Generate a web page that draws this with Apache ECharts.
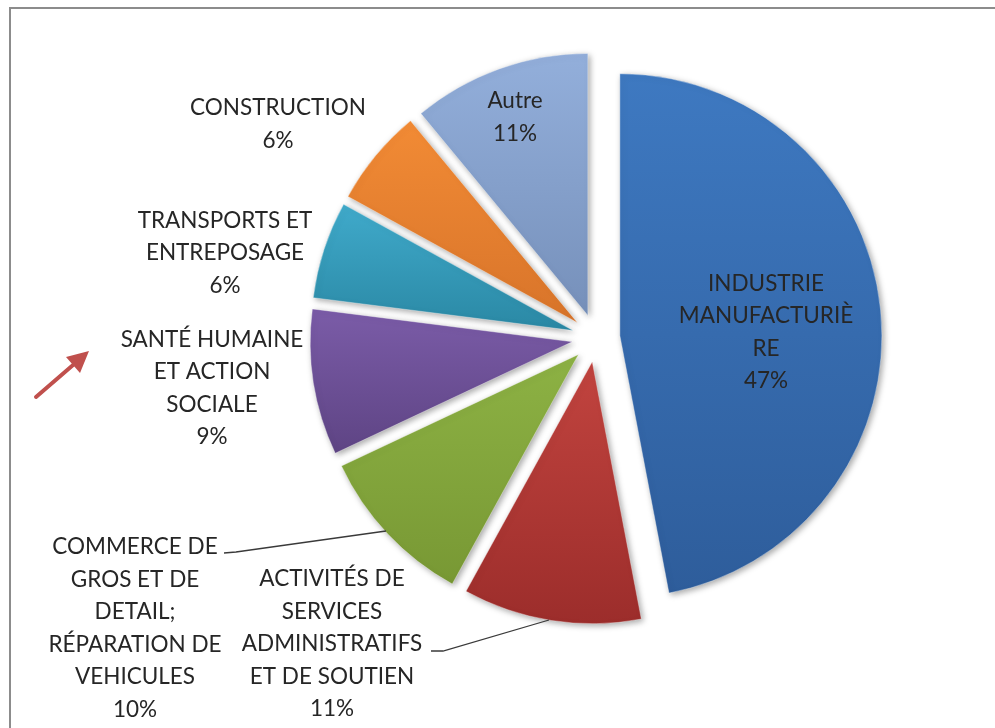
<!DOCTYPE html>
<html>
<head>
<meta charset="utf-8">
<script src="https://cdn.jsdelivr.net/npm/echarts@6/dist/echarts.min.js"></script>
<style>
  html, body { margin: 0; padding: 0; background: #fff; }
  #chart { width: 995px; height: 728px; }
</style>
</head>
<body>
<div id="chart"></div>
<script>
// secteurs d'activité, parts en %
const categories = [
  'INDUSTRIE\nMANUFACTURIÈ\nRE',
  'ACTIVITÉS DE\nSERVICES\nADMINISTRATIFS\nET DE SOUTIEN',
  'COMMERCE DE\nGROS ET DE\nDETAIL;\nRÉPARATION DE\nVEHICULES',
  'SANTÉ HUMAINE\nET ACTION\nSOCIALE',
  'TRANSPORTS ET\nENTREPOSAGE',
  'CONSTRUCTION',
  'Autre'
]
const shares = [47, 11, 10, 9, 6, 6, 11]

// dégradés haut -> bas (effet relief Excel)
const colorsTop = ['#3e79c1', '#c2443f', '#8db244', '#7b5ca8', '#40aacb', '#f28b35', '#93afdb']
const colorsBottom = ['#2e5d9b', '#9c2d2b', '#789834', '#5e4484', '#2a88a4', '#d8742a', '#7690ba']

// étiquettes placées à la main (centre du bloc de texte) comme dans Excel
const labelPos = [[766, 332], [332, 644], [135, 628], [212, 388], [225, 253], [278, 124], [515, 117]]
const leaderLines = [
  [[431, 651], [443, 651], [549, 620]],
  [[224, 553], [236, 552], [386, 531]]
]

const chart = echarts.init(document.getElementById('chart'))

const data = shares.map((v, i) => ({
  name: categories[i],
  value: v,
  selected: true,
  itemStyle: {
    color: {
      type: 'linear', x: 0, y: 0, x2: 0, y2: 1,
      colorStops: [{ offset: 0, color: colorsTop[i] }, { offset: 1, color: colorsBottom[i] }]
    }
  }
}))

const labelFont = '22.5px Lato, "Open Sans", sans-serif'
const labels = categories.map((c, i) => ({
  type: 'text',
  x: labelPos[i][0],
  y: labelPos[i][1],
  z: 100,
  style: {
    text: c + '\n' + shares[i] + '%',
    font: labelFont,
    fill: '#262626',
    align: 'center',
    verticalAlign: 'middle',
    lineHeight: 32.5
  }
}))
const lines = leaderLines.map((pts) => ({
  type: 'polyline', z: 100,
  shape: { points: pts },
  style: { stroke: '#3a3a3a', lineWidth: 1.3, fill: 'none' }
}))

chart.setOption({
  animation: false,
  graphic: [
    { type: 'rect', shape: { x: 10, y: 8, width: 1200, height: 1000 },
      style: { fill: 'none', stroke: '#8c8c8c', lineWidth: 2 } },
    // flèche rouge
    { type: 'line', shape: { x1: 36, y1: 397, x2: 80, y2: 359 },
      style: { stroke: '#c0504d', lineWidth: 4, lineCap: 'round' } },
    { type: 'polygon', shape: { points: [[89, 351], [66, 357], [80, 373]] },
      style: { fill: '#c0504d' } },
    ...lines,
    ...labels
  ],
  series: [{
    type: 'pie',
    center: [596, 338],
    radius: 262,
    startAngle: 90,
    clockwise: true,
    selectedMode: 'multiple',
    selectedOffset: 24,
    emphasis: { disabled: true },
    itemStyle: {
      borderColor: 'rgba(255,255,255,0.35)',
      borderWidth: 1,
      shadowBlur: 6,
      shadowOffsetX: 2,
      shadowOffsetY: 2,
      shadowColor: 'rgba(0,0,0,0.35)'
    },
    label: { show: false },
    labelLine: { show: false },
    data
  }]
})
</script>
</body>
</html>
